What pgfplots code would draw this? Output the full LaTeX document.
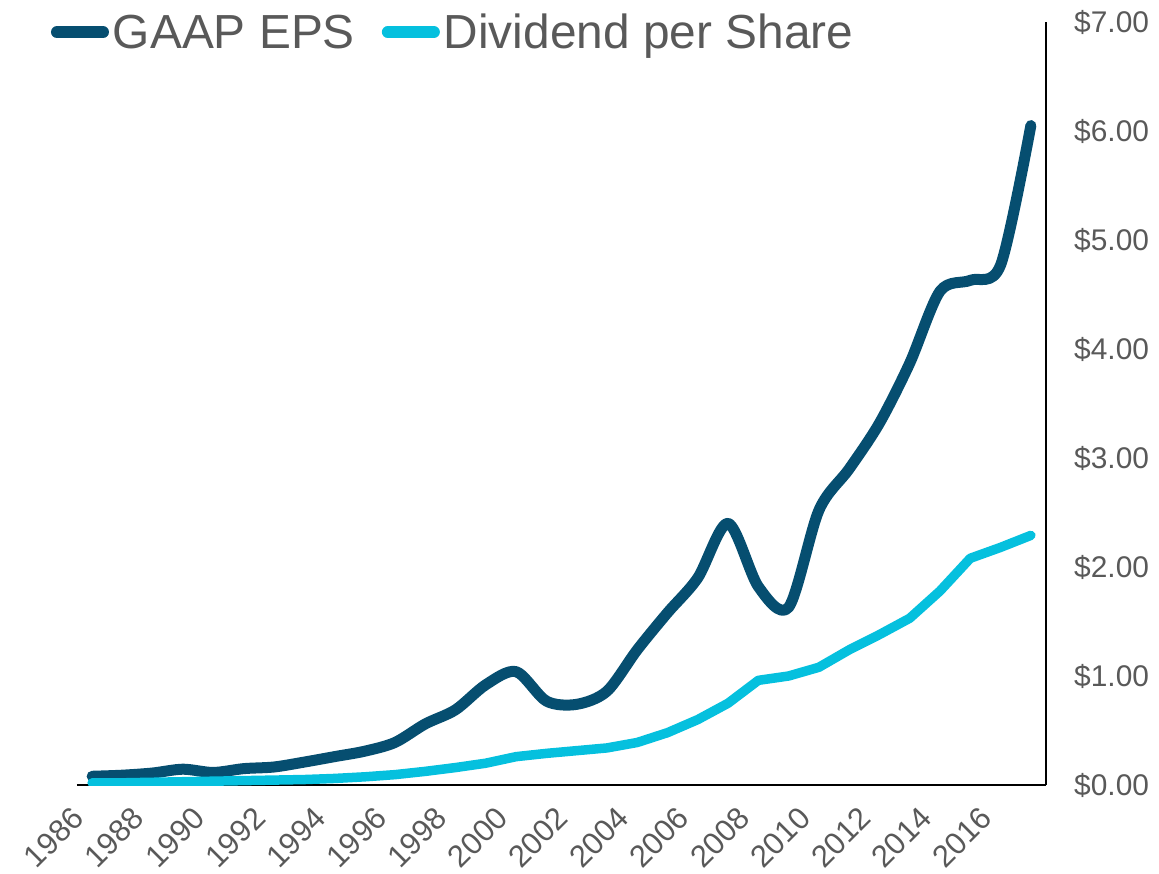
\documentclass[border=0pt]{standalone}
\usepackage{fontspec}
\setmainfont{Liberation Sans}
\usepackage{pgfplots}
\pgfplotsset{compat=1.18}
\definecolor{epsc}{RGB}{6,78,112}
\definecolor{divc}{RGB}{5,192,222}
\definecolor{txt}{RGB}{89,89,89}

\pgfplotstableread{
year eps div
1986 0.08 0.02
1987 0.09 0.02
1988 0.11 0.025
1989 0.145 0.03
1990 0.115 0.035
1991 0.15 0.04
1992 0.165 0.045
1993 0.21 0.05
1994 0.26 0.06
1995 0.31 0.075
1996 0.39 0.095
1997 0.56 0.125
1998 0.69 0.16
1999 0.92 0.20
2000 1.04 0.26
2001 0.77 0.29
2002 0.74 0.315
2003 0.86 0.34
2004 1.24 0.39
2005 1.58 0.48
2006 1.90 0.60
2007 2.40 0.75
2008 1.82 0.96
2009 1.63 1.00
2010 2.52 1.08
2011 2.90 1.24
2012 3.32 1.38
2013 3.87 1.53
2014 4.53 1.78
2015 4.63 2.08
2016 4.77 2.18
2017 6.05 2.29
}\datatable

\begin{document}
\begin{tikzpicture}
\path (-77bp,-89bp) rectangle (1082bp,785bp);
\begin{axis}[
  at={(0,0)}, anchor=south west,
  scale only axis, width=969bp, height=763bp,
  xmin=1985.5, xmax=2017.5, ymin=0, ymax=7,
  axis x line*=bottom, axis y line*=right,
  axis line style={black, line width=1.4bp, -},
  xtick={1986,1988,...,2016},
  xticklabels={1986,1988,1990,1992,1994,1996,1998,2000,2002,2004,2006,2008,2010,2012,2014,2016},
  ytick={0,1,...,7},
  yticklabels={\$0.00,\$1.00,\$2.00,\$3.00,\$4.00,\$5.00,\$6.00,\$7.00},
  major tick length=0pt,
  xticklabel style={xshift=-14bp, yshift=-28bp, rotate=45, anchor=east, inner sep=0pt,
    font=\fontsize{31}{31}\selectfont, text=txt},
  yticklabel style={anchor=west, inner sep=0pt, xshift=28bp,
    font=\fontsize{30}{30}\selectfont, text=txt},
  legend columns=2,
  legend style={at={(rel axis cs:0,1)}, anchor=north west, xshift=-26bp, yshift=8bp,
    draw=none, fill=none, inner sep=0pt, outer sep=0pt,
    font=\fontsize{48}{48}\selectfont, text=txt,
    nodes={inner sep=0pt},
    /tikz/every odd column/.append style={column sep=4bp},
    /tikz/every even column/.append style={column sep=27bp}},
  legend image code/.code={\draw[#1, line width=12bp, line cap=round] (0bp,0bp) -- (46bp,0bp);},
]
\addplot[epsc, line width=11bp, smooth, tension=0.5, line cap=round, line join=round] table[x=year, y=eps] {\datatable};
\addlegendentry{GAAP EPS}
\addplot[divc, line width=9.5bp, line cap=round, line join=round] table[x=year, y=div] {\datatable};
\addlegendentry{Dividend per Share}
\end{axis}
\end{tikzpicture}
\end{document}
